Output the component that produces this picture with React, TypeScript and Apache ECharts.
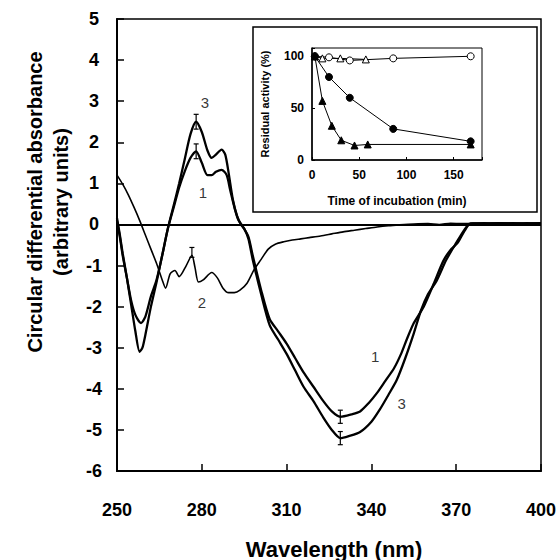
import React, { useEffect, useRef } from "react";
import * as echarts from "echarts";

// ---------- main CD spectra (wavelength nm -> differential absorbance) ----------
const curve1Nm = [250, 251, 252, 253.5, 255, 256.5, 258.5, 260, 262, 264, 266, 268, 270, 272, 274, 276, 278, 280, 282, 283.5, 285, 287, 288.8, 290, 291.8, 293, 294.5, 296.5, 298, 301, 304, 307, 310, 313, 316, 319.5, 323, 326, 329, 333, 336, 339, 342, 345, 348, 350.5, 352.5, 355, 358.5, 362, 365.5, 368, 370.5, 373, 375, 380, 385, 390, 395, 400];
const curve1Val = [0.1, -0.3, -0.75, -1.3, -1.85, -2.2, -2.4, -2.25, -1.75, -1.35, -0.75, -0.1, 0.4, 0.9, 1.3, 1.62, 1.78, 1.5, 1.2, 1.2, 1.28, 1.33, 1.2, 0.85, 0.35, 0.1, -0.05, -0.3, -0.75, -1.6, -2.3, -2.6, -2.9, -3.25, -3.6, -3.95, -4.3, -4.55, -4.68, -4.62, -4.55, -4.35, -4.1, -3.8, -3.5, -3.15, -2.8, -2.4, -2.0, -1.45, -0.88, -0.62, -0.45, -0.15, 0.02, 0.02, 0.03, 0.02, 0.03, 0.02];

const curve2Nm = [250, 252, 254, 256, 258, 260, 262, 264, 266, 267.2, 268.8, 270.5, 272, 274.5, 276.5, 277.6, 278.8, 280.5, 283.5, 285.5, 287.5, 289.5, 291.5, 293.5, 296, 298.5, 301, 303.5, 306, 309, 312, 315, 318, 322, 326, 330, 334, 338, 342, 346, 350, 355, 360, 364, 368, 372, 376, 380, 385, 390, 395, 400];
const curve2Val = [1.2, 0.98, 0.72, 0.42, 0.1, -0.25, -0.6, -0.95, -1.35, -1.55, -1.2, -1.12, -1.27, -1.0, -0.75, -1.05, -1.4, -1.35, -1.17, -1.3, -1.55, -1.66, -1.66, -1.6, -1.43, -1.1, -0.85, -0.6, -0.48, -0.42, -0.38, -0.35, -0.32, -0.28, -0.23, -0.18, -0.14, -0.1, -0.06, -0.03, -0.01, 0.01, 0.02, 0.0, 0.03, 0.02, 0.03, 0.02, 0.04, 0.03, 0.02, 0.04];

const curve3Nm = [250, 251, 252, 253.5, 255, 256.5, 258, 259, 260, 262, 264, 266, 268, 270, 272, 274, 276, 278, 280, 282, 283.5, 285, 287, 288.3, 289.5, 291, 292.5, 294, 295, 296.5, 298, 301, 304, 307, 310, 313, 316, 319.5, 323, 326, 329, 332, 336, 340, 343, 346, 349, 352, 355, 357.5, 360, 363, 366.5, 370, 373, 375, 380, 385, 390, 395, 400];
const curve3Val = [0.15, -0.25, -0.7, -1.3, -1.95, -2.6, -3.1, -3.0, -2.7, -2.0, -1.4, -0.75, -0.1, 0.45, 1.0, 1.6, 2.2, 2.5, 2.25, 1.8, 1.62, 1.7, 1.82, 1.7, 1.25, 0.6, 0.2, -0.02, -0.1, -0.35, -0.85, -1.7, -2.45, -2.8, -3.15, -3.55, -3.95, -4.3, -4.7, -5.0, -5.2, -5.15, -5.05, -4.8, -4.5, -4.15, -3.78, -3.25, -2.65, -2.1, -1.7, -1.38, -0.86, -0.45, -0.12, 0.02, 0.03, 0.02, 0.03, 0.02, 0.03];

// error bars
const errNm = [278, 278, 276.5, 329, 329];
const errVal = [2.5, 1.78, -0.68, -4.68, -5.2];
const errHalf = [0.18, 0.18, 0.12, 0.16, 0.16];

// curve number labels
const curveLabelText = ["3", "1", "2", "1", "3"];
const curveLabelNm = [281.1, 280.4, 280.0, 341.3, 350.7];
const curveLabelVal = [2.96, 0.77, -1.91, -3.22, -4.35];

// main axes ticks
const xTickStart = 250;
const xTickStep = 30;
const xTickEnd = 400;
const yMin = -6;
const yMax = 5;

// ---------- inset: residual activity (%) vs time (min) ----------
const openCircleT = [3, 18, 40, 86, 168];
const openCircleV = [100, 99, 96, 98, 100];
const openTriT = [3, 11, 30, 57];
const openTriV = [100, 98, 98, 97];
const filledCircleT = [3, 18, 40, 86, 168];
const filledCircleV = [100, 80, 60, 30, 18];
const filledTriT = [3, 11, 21, 31, 45, 59, 168];
const filledTriV = [100, 57, 33, 19, 14, 15, 15];

const zip = (a: number[], b: number[]) => a.map((x, i) => [x, b[i]]);

const FONT = "'Liberation Sans', Arial, Helvetica, sans-serif";

export default function App() {
  const ref = useRef<HTMLDivElement>(null);
  useEffect(() => {
    const chart = echarts.init(ref.current!, null, { renderer: "svg" });

    const insetSeries = (
      t: number[],
      v: number[],
      symbol: string,
      filled: boolean,
      size: number
    ) => ({
      type: "line",
      xAxisIndex: 2,
      yAxisIndex: 1,
      data: zip(t, v),
      symbol,
      symbolSize: size,
      showSymbol: true,
      z: 12,
      lineStyle: { color: "#000", width: 1 },
      itemStyle: {
        color: filled ? "#000" : "#fff",
        borderColor: "#000",
        borderWidth: 1,
      },
      silent: true,
    });

    const option: any = {
      animation: false,
      backgroundColor: "#fff",
      textStyle: { fontFamily: FONT },
      grid: [
        {
          left: 117,
          top: 19,
          width: 424,
          height: 452,
          show: true,
          borderColor: "#000",
          borderWidth: 1.5,
          z: 0,
        },
        {
          left: 312,
          top: 48,
          width: 170,
          height: 112,
          show: true,
          borderColor: "#000",
          borderWidth: 1,
          backgroundColor: "transparent",
          z: 10,
        },
      ],
      xAxis: [
        {
          gridIndex: 0,
          type: "value",
          min: xTickStart,
          max: xTickEnd,
          show: false,
        },
        {
          gridIndex: 0,
          type: "value",
          min: 0,
          max: xTickEnd - xTickStart,
          interval: xTickStep,
          position: "bottom",
          axisLine: { show: true, onZero: false, lineStyle: { color: "#000", width: 2 } },
          axisTick: { show: true, inside: true, length: 7, lineStyle: { color: "#000", width: 1.5 } },
          axisLabel: {
            margin: 30,
            color: "#000",
            fontSize: 18,
            fontWeight: "bold",
            fontFamily: FONT,
            formatter: (v: number) => String(v + xTickStart),
          },
          splitLine: { show: false },
        },
        {
          gridIndex: 1,
          type: "value",
          min: 0,
          max: 180,
          interval: 50,
          z: 10,
          axisLine: { show: true, onZero: false, lineStyle: { color: "#000", width: 1.5 } },
          axisTick: { show: true, inside: true, length: 3, lineStyle: { color: "#000" } },
          axisLabel: {
            margin: 9,
            color: "#000",
            fontSize: 12,
            fontWeight: "bold",
            fontFamily: FONT,
            formatter: (v: number) => (v % 50 === 0 ? String(v) : ""),
          },
          splitLine: { show: false },
        },
      ],
      yAxis: [
        {
          gridIndex: 0,
          type: "value",
          min: yMin,
          max: yMax,
          interval: 1,
          axisLine: { show: true, onZero: false, lineStyle: { color: "#000", width: 2 } },
          axisTick: { show: true, inside: true, length: 7, lineStyle: { color: "#000", width: 1.5 } },
          axisLabel: {
            margin: 23,
            align: "center",
            color: "#000",
            fontSize: 18,
            fontWeight: "bold",
            fontFamily: FONT,
          },
          splitLine: { show: false },
        },
        {
          gridIndex: 1,
          type: "value",
          min: 0,
          max: 108,
          interval: 50,
          z: 10,
          axisLine: { show: true, onZero: false, lineStyle: { color: "#000", width: 1.5 } },
          axisTick: { show: true, inside: true, length: 3, lineStyle: { color: "#000" } },
          axisLabel: {
            margin: 8,
            color: "#000",
            fontSize: 12,
            fontWeight: "bold",
            fontFamily: FONT,
            formatter: (v: number) => (v % 50 === 0 ? String(v) : ""),
          },
          splitLine: { show: false },
        },
      ],
      graphic: [
        {
          type: "rect",
          z: 5,
          shape: { x: 253, y: 27, width: 284, height: 185 },
          style: { fill: "#fff", stroke: "#000", lineWidth: 1.5 },
          silent: true,
        },
        {
          type: "text",
          z: 12,
          x: 265,
          y: 104,
          rotation: Math.PI / 2,
          style: {
            text: "Residual activity (%)",
            font: `bold 11px ${FONT}`,
            fill: "#000",
            textAlign: "center",
            textVerticalAlign: "middle",
          },
        },
        {
          type: "text",
          z: 12,
          x: 397,
          y: 201,
          style: {
            text: "Time of incubation (min)",
            font: `bold 12px ${FONT}`,
            fill: "#000",
            textAlign: "center",
            textVerticalAlign: "middle",
          },
        },
        {
          type: "text",
          x: 35,
          y: 202,
          rotation: Math.PI / 2,
          style: {
            text: "Circular differential absorbance",
            font: `bold 20px ${FONT}`,
            fill: "#000",
            textAlign: "center",
            textVerticalAlign: "middle",
          },
        },
        {
          type: "text",
          x: 61,
          y: 202,
          rotation: Math.PI / 2,
          style: {
            text: "(arbitrary units)",
            font: `bold 20px ${FONT}`,
            fill: "#000",
            textAlign: "center",
            textVerticalAlign: "middle",
          },
        },
        {
          type: "text",
          x: 334,
          y: 549,
          style: {
            text: "Wavelength (nm)",
            font: `bold 22px ${FONT}`,
            fill: "#000",
            textAlign: "center",
            textVerticalAlign: "middle",
          },
        },
      ],
      series: [
        {
          type: "line",
          name: "2",
          xAxisIndex: 0,
          yAxisIndex: 0,
          data: zip(curve2Nm, curve2Val),
          showSymbol: false,
          smooth: 0.25,
          lineStyle: { color: "#000", width: 1.6 },
          silent: true,
          markLine: {
            silent: true,
            symbol: "none",
            label: { show: false },
            lineStyle: { color: "#000", width: 2, type: "solid" },
            data: [{ yAxis: 0 }],
          },
        },
        {
          type: "line",
          name: "1",
          xAxisIndex: 0,
          yAxisIndex: 0,
          data: zip(curve1Nm, curve1Val),
          showSymbol: false,
          smooth: 0.25,
          lineStyle: { color: "#000", width: 2.3 },
          silent: true,
        },
        {
          type: "line",
          name: "3",
          xAxisIndex: 0,
          yAxisIndex: 0,
          data: zip(curve3Nm, curve3Val),
          showSymbol: false,
          smooth: 0.25,
          lineStyle: { color: "#000", width: 2.3 },
          silent: true,
        },
        {
          type: "custom",
          xAxisIndex: 0,
          yAxisIndex: 0,
          silent: true,
          data: errNm.map((x, i) => [x, errVal[i], errHalf[i]]),
          renderItem: (params: any, api: any) => {
            const x = api.value(0);
            const y = api.value(1);
            const e = api.value(2);
            const top = api.coord([x, y + e]);
            const bot = api.coord([x, y - e]);
            const cap = 2.5;
            const st = { stroke: "#000", lineWidth: 1.2 };
            return {
              type: "group",
              children: [
                { type: "line", shape: { x1: top[0], y1: top[1], x2: bot[0], y2: bot[1] }, style: st },
                { type: "line", shape: { x1: top[0] - cap, y1: top[1], x2: top[0] + cap, y2: top[1] }, style: st },
                { type: "line", shape: { x1: bot[0] - cap, y1: bot[1], x2: bot[0] + cap, y2: bot[1] }, style: st },
              ],
            };
          },
        },
        {
          type: "scatter",
          xAxisIndex: 0,
          yAxisIndex: 0,
          silent: true,
          symbolSize: 0,
          data: curveLabelText.map((t, i) => ({ name: t, value: [curveLabelNm[i], curveLabelVal[i]] })),
          label: {
            show: true,
            position: "inside",
            formatter: (p: any) => p.name,
            color: "#000",
            fontSize: 15,
            fontFamily: FONT,
          },
        },
        insetSeries(openCircleT, openCircleV, "circle", false, 7),
        insetSeries(openTriT, openTriV, "triangle", false, 7),
        insetSeries(filledCircleT, filledCircleV, "circle", true, 7),
        insetSeries(filledTriT, filledTriV, "triangle", true, 7),
      ],
    };

    chart.setOption(option);
    return () => chart.dispose();
  }, []);

  return (
    <div
      ref={ref}
      style={{ position: "fixed", left: 0, top: 0, width: 560, height: 560 }}
    />
  );
}
